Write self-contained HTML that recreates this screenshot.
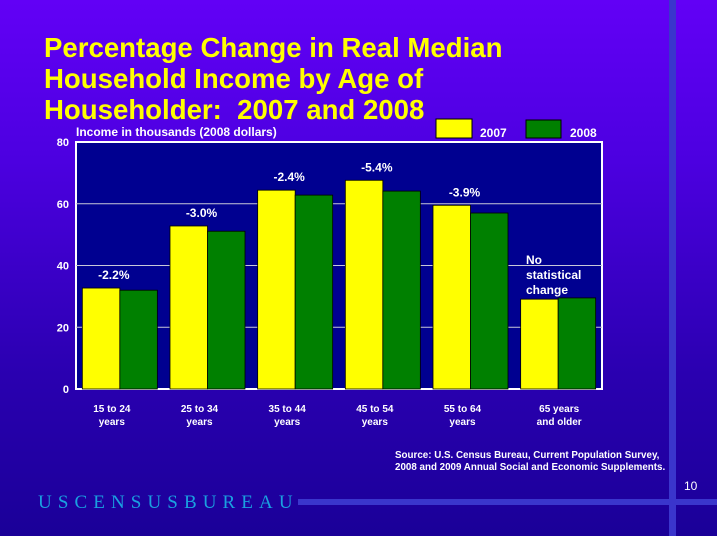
<!DOCTYPE html>
<html><head><meta charset="utf-8"><style>
body{margin:0;width:717px;height:536px;overflow:hidden;font-family:"Liberation Sans",sans-serif}
#bg{position:absolute;left:0;top:0;width:717px;height:536px;background:linear-gradient(#6200f6 0%,#4c00e0 30%,#2a00b0 70%,#1a0098 100%)}
</style></head><body>
<div id="bg"></div>
<svg width="717" height="536" style="position:absolute;left:0;top:0">
<rect x="669" y="0" width="7" height="536" fill="#3a35cc"/>
<rect x="298" y="499" width="419" height="6" fill="#3a35cc"/>
<g font-weight="bold" font-size="27.6" fill="#ffff00">
<text x="44" y="57">Percentage Change in Real Median</text>
<text x="44" y="88">Household Income by Age of</text>
<text x="44" y="119" xml:space="preserve">Householder:  2007 and 2008</text>
</g>
<text x="76" y="136" font-size="12" font-weight="bold" fill="#fff">Income in thousands (2008 dollars)</text>
<rect x="436" y="119" width="36" height="19" fill="#ffff00" stroke="#000"/>
<text x="480" y="137" font-size="12" font-weight="bold" fill="#fff">2007</text>
<rect x="526" y="120" width="35" height="18" fill="#008000" stroke="#000"/>
<text x="570" y="137" font-size="12" font-weight="bold" fill="#fff">2008</text>
<rect x="76" y="142" width="526" height="247" fill="#000090" stroke="#fff" stroke-width="2"/>
<g id="chart"></g>
<g font-size="9.8" font-weight="bold" fill="#fff">
<text x="395" y="458">Source:  U.S. Census Bureau, Current Population Survey,</text>
<text x="395" y="470">2008 and 2009 Annual Social and Economic Supplements.</text>
</g>
<text x="684" y="490" font-size="12" fill="#fff">10</text>
<text x="38" y="508" font-family="Liberation Serif,serif" font-size="19" fill="#1aa0e0" letter-spacing="6.1">USCENSUSBUREAU</text>
</svg>
<script>
const categories=[["15 to 24","years"],["25 to 34","years"],["35 to 44","years"],["45 to 54","years"],["55 to 64","years"],["65 years","and older"]];
const values2007=[32.7,52.8,64.4,67.6,59.5,29.1];
const values2008=[32.0,51.1,62.8,64.1,57.0,29.5];
const changeLabels=["-2.2%","-3.0%","-2.4%","-5.4%","-3.9%",""];
const yTicks=[0,20,40,60,80];
const NS="http://www.w3.org/2000/svg";
const g=document.getElementById('chart');
const X0=76,X1=602,Y0=389,Y1=142,YMAX=80;
const y=v=>Y0-(v/YMAX)*(Y0-Y1);
const gw=(X1-X0)/categories.length;
const bw=37.5;
function mk(t,a,txt){const e=document.createElementNS(NS,t);for(const k in a)e.setAttribute(k,a[k]);if(txt!==undefined)e.textContent=txt;g.appendChild(e);return e;}
yTicks.forEach(v=>{
 if(v>0&&v<YMAX){const l=mk('line',{x1:X0,x2:X1,y1:y(v),y2:y(v),stroke:'#c8c8d8','stroke-width':1});
 
 }
 const t=mk('text',{x:69,y:y(v)+4,'text-anchor':'end','font-size':11,'font-weight':'bold',fill:'#fff'},v);
 
 
});
categories.forEach((c,i)=>{
 const cx=X0+gw*(i+0.5);
 const b1=mk('rect',{x:cx-bw,y:y(values2007[i]),width:bw,height:Y0-y(values2007[i]),fill:'#ffff00',stroke:'#000','stroke-width':0.8});
 
 
 const b2=mk('rect',{x:cx,y:y(values2008[i]),width:bw,height:Y0-y(values2008[i]),fill:'#008000',stroke:'#000','stroke-width':0.8});
 
 
 if(changeLabels[i]){
  const t=mk('text',{x:cx-6,y:y(values2007[i])-9,'text-anchor':'middle','font-size':12,'font-weight':'bold',fill:'#fff'},changeLabels[i]);
  
  
 }
 c.forEach((s,j)=>{
  const t=mk('text',{x:cx+(i==5?1:-8),y:412+j*13,'text-anchor':'middle','font-size':10,'font-weight':'bold',fill:'#fff'},s);
  
  
 });
});
["No","statistical","change"].forEach((s,j)=>{
 const t=mk('text',{x:526,y:264+j*15,'font-size':12,'font-weight':'bold',fill:'#fff'},s);
 
 
});
</script>
</body></html>
